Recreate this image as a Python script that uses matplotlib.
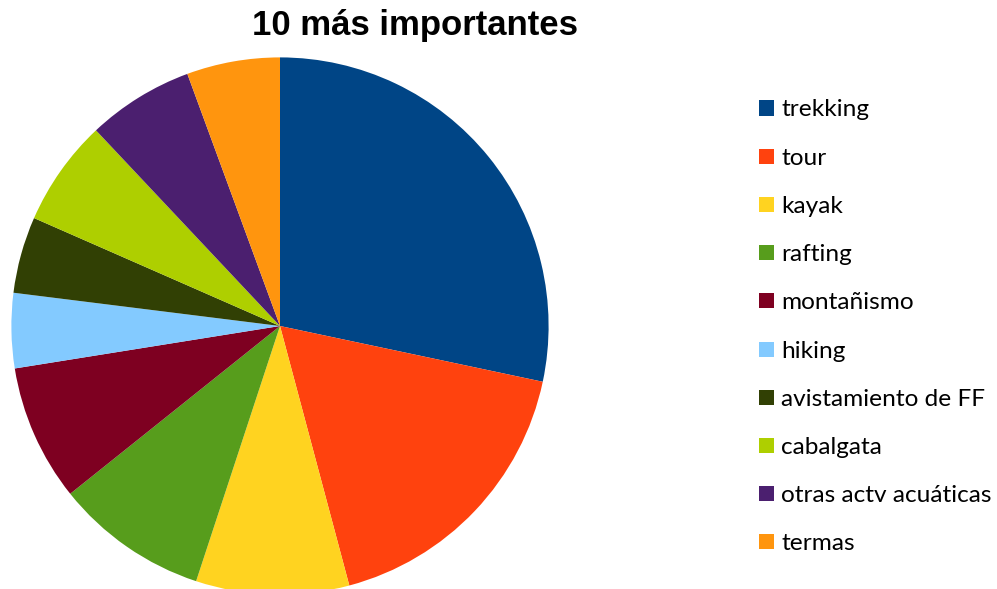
import matplotlib
matplotlib.use("Agg")
import matplotlib.pyplot as plt
from matplotlib.patches import Rectangle

title = "10 más importantes"
categories = ["trekking", "tour", "kayak", "rafting", "montañismo", "hiking",
              "avistamiento de FF", "cabalgata", "otras actv acuáticas", "termas"]
values = [28.3, 17.5, 9.2, 9.2, 8.2, 4.5, 4.6, 6.4, 6.4, 5.6]
colors = ["#004586", "#ff420e", "#ffd320", "#579d1c", "#7e0021", "#83caff",
          "#314004", "#aecf00", "#4b1f6f", "#ff950e"]

W, H = 997, 589
fig = plt.figure(figsize=(W / 100, H / 100), dpi=100)

cx, cy, r = 280, 326, 268.6
ax = fig.add_axes([(cx - r) / W, (H - cy - r) / H, 2 * r / W, 2 * r / H])
wedges, _ = ax.pie(values, colors=colors, startangle=90, counterclock=False,
                   radius=1, wedgeprops=dict(linewidth=0))
ax.set_xlim(-1, 1)
ax.set_ylim(-1, 1)
ax.set_aspect("equal")
ax.axis("off")

fig.text(415 / W, 1 - 26 / H, title, ha="center", va="center",
         fontsize=25, fontweight="bold", family="Liberation Sans")

y0, dy = 108, 48.2
sq = 15
for i, (w, lab) in enumerate(zip(wedges, categories)):
    yc = y0 + i * dy
    fig.patches.append(Rectangle(((759) / W, (H - yc - sq / 2) / H), sq / W, sq / H,
                                 transform=fig.transFigure, facecolor=w.get_facecolor(),
                                 edgecolor="none"))
    fig.text(781 / W, (H - yc) / H, lab, ha="left", va="center_baseline",
             fontsize=17.6, family="Lato", color="black")

fig.savefig("out.png", dpi=100, facecolor="white")
